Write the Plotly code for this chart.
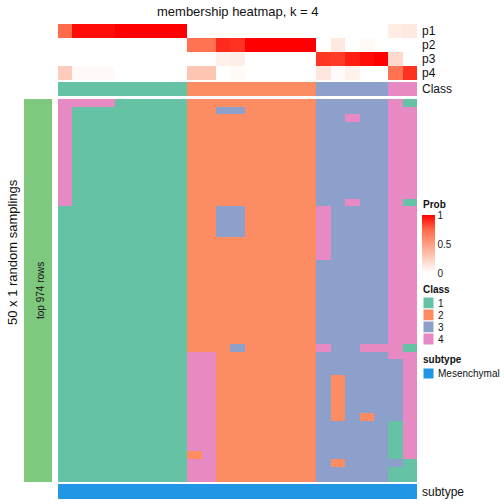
import plotly.graph_objects as go

W = H = 504

# ---- data ----
col_class = [1]*9 + [2]*9 + [3]*5 + [4]*2

p1 = [0.73, 0.97, 0.97, 0.97, 1, 1, 1, 1, 1, 0, 0, 0, 0, 0, 0, 0, 0, 0, 0, 0, 0, 0, 0, 0.10, 0.12]
p2 = [0, 0, 0, 0, 0, 0, 0, 0, 0, 0.70, 0.70, 0.90, 0.88, 1, 1, 1, 1, 1, 0, 0.12, 0, 0.03, 0, 0, 0]
p3 = [0, 0, 0, 0, 0, 0, 0, 0, 0, 0, 0, 0.08, 0.09, 0, 0, 0, 0, 0, 0.87, 0.86, 0.93, 0.97, 1, 0.20, 0]
p4 = [0.27, 0.03, 0.03, 0.03, 0, 0, 0, 0, 0, 0.30, 0.30, 0, 0.03, 0, 0, 0, 0, 0, 0.13, 0.02, 0.07, 0, 0, 0.70, 0.88]

# 50 random samplings x 25 samples (class labels)
samplings = (
    ["4444111112222222223333341"]
    + ["4111111112233222223333344"]
    + ["4111111112222222223343344"]
    + ["4111111112222222223333344"] * 10
    + ["4111111112222222223343341"]
    + ["1111111112233222224333344"] * 4
    + ["1111111112222222224333344"] * 3
    + ["1111111112222222223333344"] * 11
    + ["1111111112223222224334441"]
    + ["1111111114422222223333344"]
    + ["1111111114422222223333334"] * 2
    + ["1111111114422222223233334"] * 5
    + ["1111111114422222223232334"]
    + ["1111111114422222223333314"] * 4
    + ["1111111112422222223333314"]
    + ["1111111114422222223233331"]
    + ["1111111114422222223333311"] * 2
)
subtype = ["Mesenchymal"] * 25
row_labels = ["p1", "p2", "p3", "p4"]
class_names = ["1", "2", "3", "4"]

# ---- styling ----
class_colors = ["#66C2A5", "#FC8D62", "#8DA0CB", "#E78AC3"]
subtype_color = "#2196E5"
bar_green = "#7FC97F"
prob_scale = [[0, "#FFFFFF"], [0.25, "#FFCFBF"], [0.5, "#FF9E81"], [0.75, "#FF6846"], [1, "#FF0000"]]
disc_scale = []
for i, c in enumerate(class_colors):
    disc_scale += [[i / 4, c], [(i + 1) / 4, c]]

def px(x):
    return x / W

def py(y):
    return 1 - y / H

FONT = "Liberation Sans, Arial, sans-serif"
x_idx = list(range(len(col_class)))

fig = go.Figure()

# probability rows
fig.add_trace(go.Heatmap(
    z=[p1, p2, p3, p4], x=x_idx, y=[0, 1, 2, 3],
    colorscale=prob_scale, zmin=0, zmax=1, xaxis="x", yaxis="y2",
    hoverinfo="skip",
    colorbar=dict(x=px(422), xanchor="left", y=py(215), yanchor="top",
                  len=58, lenmode="pixels", thickness=13, thicknessmode="pixels",
                  xpad=0, ypad=0, outlinewidth=0, ticks="",
                  tickvals=[0, 0.5, 1], ticktext=["0", "0.5", "1"],
                  tickfont=dict(size=10, family=FONT, color="#222")),
))
# class row
fig.add_trace(go.Heatmap(
    z=[col_class], x=x_idx, y=[0], colorscale=disc_scale, zmin=0.5, zmax=4.5,
    showscale=False, xaxis="x", yaxis="y3", hoverinfo="skip"))
# main matrix
zmain = [[int(c) for c in s] for s in samplings]
fig.add_trace(go.Heatmap(
    z=zmain, x=x_idx, y=list(range(len(samplings))), colorscale=disc_scale,
    zmin=0.5, zmax=4.5, showscale=False, xaxis="x", yaxis="y", hoverinfo="skip"))
# subtype row
fig.add_trace(go.Heatmap(
    z=[[1 if s == "Mesenchymal" else 0 for s in subtype]], x=x_idx, y=[0],
    colorscale=[[0, subtype_color], [1, subtype_color]], zmin=0, zmax=1,
    showscale=False, xaxis="x", yaxis="y4", hoverinfo="skip"))

hid = dict(visible=False, showgrid=False, zeroline=False, fixedrange=True)
fig.update_layout(
    width=W, height=H, margin=dict(l=0, r=0, t=0, b=0),
    paper_bgcolor="white", plot_bgcolor="white",
    font=dict(family=FONT, size=12, color="#111"),
    xaxis=dict(domain=[px(58), px(417)], range=[-0.5, len(col_class) - 0.5], **hid),
    yaxis=dict(domain=[py(482), py(99)], range=[len(samplings) - 0.5, -0.5], anchor="x", **hid),
    yaxis2=dict(domain=[py(80), py(24)], range=[3.5, -0.5], anchor="x", **hid),
    yaxis3=dict(domain=[py(96), py(82)], range=[-0.5, 0.5], anchor="x", **hid),
    yaxis4=dict(domain=[py(499), py(484)], range=[-0.5, 0.5], anchor="x", **hid),
    showlegend=False,
)

ann = []
def text(x, y, s, size=12, xanchor="left", angle=0, bold=False):
    ann.append(dict(x=px(x), y=py(y), xref="paper", yref="paper", text=("<b>%s</b>" % s) if bold else s,
                    showarrow=False, xanchor=xanchor, yanchor="middle", textangle=angle,
                    font=dict(size=size, family=FONT, color="#111")))

text(237.5, 11, "membership heatmap, k = 4", size=13, xanchor="center")
for i, lab in enumerate(row_labels):
    text(420, 31 + 14 * i, lab)
text(420, 89, "Class")
text(420, 492, "subtype")
text(12, 252, "50 x 1 random samplings", size=13, xanchor="center", angle=-90)
text(40, 291, "top 974 rows", size=10, xanchor="center", angle=-90)

# legends
text(421, 204, "Prob", size=10, bold=True)
text(421, 289, "Class", size=10, bold=True)
shapes = []
shapes.append(dict(type="rect", xref="paper", yref="paper", x0=px(24), x1=px(52), y0=py(482), y1=py(99),
                   fillcolor=bar_green, line=dict(width=0)))
for i, (c, n) in enumerate(zip(class_colors, class_names)):
    y0 = 297 + 12 * i
    shapes.append(dict(type="rect", xref="paper", yref="paper", x0=px(423), x1=px(434),
                       y0=py(y0 + 12), y1=py(y0), fillcolor=c, line=dict(width=1, color="white")))
    text(436, y0 + 6, n, size=10)
text(421, 359, "subtype", size=10, bold=True)
shapes.append(dict(type="rect", xref="paper", yref="paper", x0=px(423), x1=px(434),
                   y0=py(379), y1=py(368), fillcolor=subtype_color, line=dict(width=1, color="white")))
text(436, 373.5, "Mesenchymal", size=10)

fig.update_layout(annotations=ann, shapes=shapes)
fig.write_html("out.html", config={"displayModeBar": False},
               post_script="document.body.style.margin='0';document.body.style.overflow='hidden';")
